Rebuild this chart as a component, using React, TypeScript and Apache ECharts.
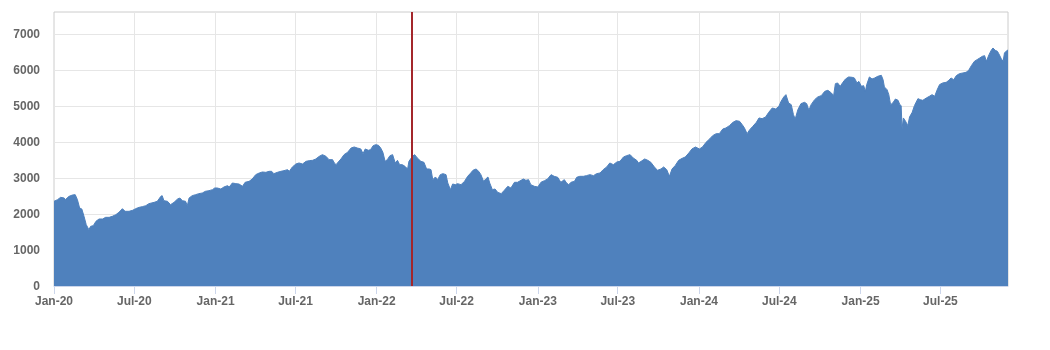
import React, { useEffect, useRef } from "react";
import * as echarts from "echarts";

const dates2020 = ["2020-01-01","2020-01-09","2020-01-16","2020-01-24","2020-01-27","2020-02-04","2020-02-12","2020-02-18","2020-02-23","2020-02-28","2020-03-04","2020-03-09","2020-03-14","2020-03-20","2020-03-24","2020-03-30","2020-04-05","2020-04-12","2020-04-20","2020-04-27","2020-05-05","2020-05-12","2020-05-20","2020-05-27","2020-06-04","2020-06-10","2020-06-19","2020-06-27","2020-07-04","2020-07-12","2020-07-19","2020-07-27","2020-08-03","2020-08-15","2020-08-22","2020-08-30","2020-09-02","2020-09-06","2020-09-14","2020-09-21","2020-09-29","2020-10-07","2020-10-12","2020-10-18","2020-10-25","2020-10-29","2020-11-02","2020-11-09","2020-11-17","2020-11-24","2020-12-02","2020-12-09","2020-12-17","2020-12-25","2020-12-30"];
const values2020 = [2352,2398,2463,2444,2400,2490,2528,2537,2400,2167,2139,1935,1704,1565,1657,1676,1796,1861,1861,1907,1907,1935,1981,2046,2148,2074,2074,2102,2148,2185,2204,2231,2287,2324,2352,2490,2509,2370,2352,2259,2324,2417,2444,2370,2352,2231,2444,2509,2537,2565,2583,2630,2648,2676,2722];

const dates2021 = ["2021-01-05","2021-01-13","2021-01-20","2021-01-28","2021-02-01","2021-02-08","2021-02-16","2021-02-23","2021-03-03","2021-03-09","2021-03-18","2021-03-25","2021-04-02","2021-04-10","2021-04-17","2021-04-25","2021-05-02","2021-05-08","2021-05-13","2021-05-21","2021-05-29","2021-06-05","2021-06-13","2021-06-17","2021-06-24","2021-07-02","2021-07-09","2021-07-17","2021-07-25","2021-08-01","2021-08-09","2021-08-16","2021-08-24","2021-08-31","2021-09-08","2021-09-15","2021-09-23","2021-09-27","2021-10-01","2021-10-04","2021-10-12","2021-10-19","2021-10-27","2021-11-04","2021-11-11","2021-11-18","2021-11-26","2021-12-01","2021-12-06","2021-12-13","2021-12-18","2021-12-24","2021-12-30"];
const values2021 = [2722,2694,2750,2787,2750,2861,2843,2833,2769,2880,2907,2972,3093,3139,3167,3157,3185,3185,3120,3157,3185,3204,3231,3185,3306,3389,3417,3389,3463,3481,3491,3528,3602,3648,3602,3509,3509,3417,3370,3417,3528,3648,3713,3833,3861,3833,3806,3676,3806,3769,3787,3898,3926];

const dates2022 = ["2022-01-05","2022-01-10","2022-01-15","2022-01-20","2022-01-25","2022-01-31","2022-02-06","2022-02-12","2022-02-17","2022-02-22","2022-02-28","2022-03-06","2022-03-12","2022-03-15","2022-03-23","2022-03-28","2022-04-03","2022-04-11","2022-04-18","2022-04-24","2022-04-30","2022-05-04","2022-05-08","2022-05-14","2022-05-19","2022-05-25","2022-05-31","2022-06-07","2022-06-11","2022-06-17","2022-06-22","2022-06-28","2022-07-03","2022-07-11","2022-07-19","2022-07-26","2022-08-02","2022-08-07","2022-08-14","2022-08-20","2022-08-25","2022-08-31","2022-09-05","2022-09-10","2022-09-14","2022-09-20","2022-09-26","2022-10-02","2022-10-10","2022-10-17","2022-10-25","2022-11-01","2022-11-09","2022-11-16","2022-11-24","2022-11-29","2022-12-05","2022-12-11","2022-12-16","2022-12-24"];
const values2022 = [3907,3833,3713,3463,3509,3620,3648,3417,3491,3370,3370,3324,3250,3463,3602,3648,3556,3463,3435,3250,3250,3231,2954,3028,2954,3093,3120,3093,2861,2676,2833,2815,2843,2815,2907,3046,3139,3213,3250,3185,3093,2907,2972,3028,2861,2676,2694,2602,2565,2657,2769,2722,2880,2880,2935,2972,2935,2954,2815,2769];

const dates2023 = ["2023-01-01","2023-01-08","2023-01-16","2023-01-23","2023-01-31","2023-02-07","2023-02-15","2023-02-22","2023-03-02","2023-03-07","2023-03-12","2023-03-17","2023-03-25","2023-03-30","2023-04-06","2023-04-14","2023-04-21","2023-04-29","2023-05-07","2023-05-14","2023-05-22","2023-05-29","2023-06-06","2023-06-13","2023-06-21","2023-06-29","2023-07-06","2023-07-14","2023-07-21","2023-07-29","2023-08-05","2023-08-13","2023-08-17","2023-08-23","2023-08-31","2023-09-07","2023-09-14","2023-09-22","2023-09-29","2023-10-07","2023-10-13","2023-10-20","2023-10-26","2023-11-01","2023-11-08","2023-11-16","2023-11-24","2023-12-01","2023-12-09","2023-12-16","2023-12-24"];
const values2023 = [2750,2880,2926,2972,3093,3046,3019,2880,2954,2861,2815,2880,2907,3019,3046,3046,3065,3093,3065,3120,3139,3231,3306,3417,3370,3444,3463,3583,3620,3648,3556,3491,3417,3463,3528,3491,3435,3306,3213,3250,3306,3231,3046,3250,3343,3491,3546,3583,3694,3806,3861];

const dates2024 = ["2024-01-02","2024-01-09","2024-01-17","2024-01-25","2024-02-01","2024-02-09","2024-02-16","2024-02-24","2024-03-02","2024-03-10","2024-03-18","2024-03-25","2024-04-02","2024-04-08","2024-04-13","2024-04-19","2024-04-25","2024-05-02","2024-05-10","2024-05-16","2024-05-23","2024-05-31","2024-06-07","2024-06-15","2024-06-23","2024-06-30","2024-07-05","2024-07-11","2024-07-16","2024-07-22","2024-07-28","2024-08-02","2024-08-06","2024-08-12","2024-08-19","2024-08-27","2024-09-01","2024-09-06","2024-09-11","2024-09-19","2024-09-26","2024-10-04","2024-10-12","2024-10-19","2024-10-27","2024-11-01","2024-11-05","2024-11-10","2024-11-16","2024-11-22","2024-11-28","2024-12-05","2024-12-13","2024-12-18","2024-12-24","2024-12-28"];
const values2024 = [3806,3861,3991,4083,4176,4231,4231,4361,4389,4454,4546,4593,4574,4481,4389,4231,4343,4435,4546,4667,4648,4694,4824,4944,4917,4991,5130,5250,5315,5083,5037,4759,4639,4898,5065,5102,5065,4880,5037,5176,5250,5287,5407,5435,5361,5287,5620,5639,5546,5657,5750,5806,5796,5778,5639,5685];

const dates2025 = ["2025-01-03","2025-01-08","2025-01-12","2025-01-15","2025-01-21","2025-01-27","2025-02-02","2025-02-09","2025-02-17","2025-02-21","2025-02-24","2025-03-02","2025-03-06","2025-03-10","2025-03-15","2025-03-21","2025-03-27","2025-03-31","2025-04-03","2025-04-05","2025-04-08","2025-04-13","2025-04-18","2025-04-22","2025-04-28","2025-05-03","2025-05-11","2025-05-16","2025-05-22","2025-05-30","2025-06-06","2025-06-12","2025-06-18","2025-06-23","2025-06-29","2025-07-06","2025-07-14","2025-07-20","2025-07-25","2025-07-31","2025-08-06","2025-08-13","2025-08-21","2025-08-28","2025-09-03","2025-09-09","2025-09-16","2025-09-22","2025-09-28","2025-10-04","2025-10-09","2025-10-13","2025-10-19","2025-10-24","2025-10-28","2025-11-02","2025-11-07","2025-11-10","2025-11-16","2025-11-20","2025-11-23","2025-11-29","2025-12-01"];
const values2025 = [5546,5565,5407,5593,5806,5750,5778,5824,5852,5731,5528,5454,5315,5037,5083,5194,5157,5037,5009,4361,4667,4574,4454,4694,4824,5009,5204,5176,5157,5222,5269,5315,5269,5435,5593,5639,5657,5713,5778,5731,5843,5898,5917,5935,5991,6120,6241,6287,6333,6380,6398,6241,6426,6546,6611,6546,6519,6454,6306,6241,6472,6546,6550];

const xTickDates = ["2020-01-01","2020-07-01","2021-01-01","2021-07-01","2022-01-01","2022-07-01","2023-01-01","2023-07-01","2024-01-01","2024-07-01","2025-01-01","2025-07-01"];
const xTickLabels = ["Jan-20","Jul-20","Jan-21","Jul-21","Jan-22","Jul-22","Jan-23","Jul-23","Jan-24","Jul-24","Jan-25","Jul-25"];
const xStart = "2020-01-01";
const xEnd = "2025-12-01";
const yMin = 0;
const yMax = 7610;
const yInterval = 1000;
const markerDate = "2022-03-21";

function ts(s: string): number {
  const [y, m, d] = s.split("-").map(Number);
  return Date.UTC(y, m - 1, d);
}

export default function App() {
  const ref = useRef<HTMLDivElement>(null);
  useEffect(() => {
    if (!ref.current) return;
    const chart = echarts.init(ref.current, null, { renderer: "svg" });
    const allDates = [...dates2020, ...dates2021, ...dates2022, ...dates2023, ...dates2024, ...dates2025];
    const allValues = [...values2020, ...values2021, ...values2022, ...values2023, ...values2024, ...values2025];
    const data = allDates.map((d, i) => [ts(d), allValues[i]]);
    const tickValues = xTickDates.map(ts);
    const labelFont = "'Liberation Sans', Arial, sans-serif";
    chart.setOption({
      animation: false,
      tooltip: { show: false },
      grid: {
        left: 54,
        right: 42,
        top: 12,
        bottom: 64,
        containLabel: false,
        outerBoundsMode: "none",
        show: true,
        borderColor: "#cccccc",
        borderWidth: 1,
        backgroundColor: "transparent",
      },
      xAxis: {
        type: "value",
        min: ts(xStart),
        max: ts(xEnd),
        axisLine: { show: true, lineStyle: { color: "#ccd6eb", width: 1 } },
        axisTick: { show: true, length: 8, lineStyle: { color: "#ccd6eb", width: 1 }, customValues: tickValues },
        axisLabel: {
          customValues: tickValues,
          formatter: (v: number) => {
            const idx = tickValues.indexOf(v);
            return idx >= 0 ? xTickLabels[idx] : "";
          },
          color: "#666666",
          fontWeight: "bold",
          fontSize: 12,
          fontFamily: labelFont,
          margin: 9,
        },
        splitLine: { show: true, showMaxLine: false, showMinLine: false, lineStyle: { color: "#e6e6e6", width: 1 } },
      },
      yAxis: {
        type: "value",
        min: yMin,
        max: yMax,
        interval: yInterval,
        axisLine: { show: false },
        axisTick: { show: false },
        axisLabel: {
          showMaxLabel: false,
          formatter: (v: number) => String(v),
          color: "#666666",
          fontWeight: "bold",
          fontSize: 12,
          fontFamily: labelFont,
          margin: 14,
        },
        splitLine: { show: true, showMaxLine: false, showMinLine: false, lineStyle: { color: "#e6e6e6", width: 1 } },
      },
      series: [
        {
          type: "line",
          data,
          symbol: "none",
          showSymbol: false,
          silent: true,
          lineStyle: { color: "#4f81bd", width: 1 },
          itemStyle: { color: "#4f81bd" },
          areaStyle: { color: "#4f81bd", opacity: 1 },
          emphasis: { disabled: true },
          markLine: {
            silent: true,
            symbol: ["none", "none"],
            label: { show: false },
            emphasis: { disabled: true },
            lineStyle: { color: "#a3262b", width: 2, type: "solid" },
            data: [{ xAxis: ts(markerDate) }],
          },
        },
      ],
    });
    return () => chart.dispose();
  }, []);
  return (
    <div style={{ position: "fixed", left: 0, top: 0, width: 1050, height: 350, margin: 0, padding: 0 }}>
      <div ref={ref} style={{ width: 1050, height: 350 }} />
    </div>
  );
}
